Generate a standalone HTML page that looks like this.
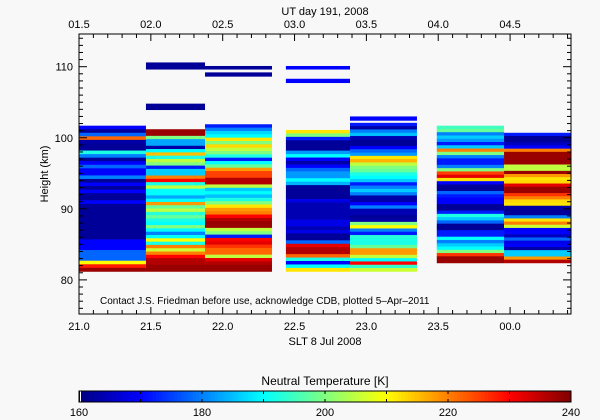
<!DOCTYPE html>
<html><head><meta charset="utf-8"><style>
body{margin:0;background:#f8f8f8;}
svg{display:block;font-family:"Liberation Sans",sans-serif;}
</style></head><body>
<svg id="chart" width="600" height="420" viewBox="0 0 600 420">
<rect width="600" height="420" fill="#f8f8f8"/>
<g id="cells"></g>
<g id="axes"></g>
<g id="cbar"></g>
</svg>
<script>
// Column time ranges (SLT hours) and height ranges (km)
const colStart = [21.0, 21.466, 21.877, 22.44, 22.886, 23.49, 23.958];
const colEnd   = [21.466, 21.877, 22.343, 22.886, 23.352, 23.958, 24.424];
const colBottom = [81.2, 81.2, 81.2, 81.2, 81.2, 82.4, 82.4];
const colTop    = [101.7, 101.2, 101.9, 101.1, 102.1, 101.7, 100.7];
// Temperatures (K), listed top to bottom
const col1Temps = [170,162,178,222,163,162,162,192,180,162,170,178,170,170,180,162,170,162,170,162,162,170,162,162,162,162,162,162,162,162,162,162,170,170,170,178,178,178,210,228,238];
const col2Temps = [238,238,200,183,183,163,190,215,192,205,200,172,186,186,220,230,192,205,190,190,183,190,218,198,205,193,198,192,190,200,190,180,190,210,192,220,206,220,230,236,236,238,238];
const col3Temps = [172,180,187,190,212,200,213,205,200,192,172,190,198,218,225,225,236,236,205,186,190,185,192,200,212,218,220,230,236,238,238,205,200,172,230,232,226,222,222,205,232,236,238,238];
const col4Temps = [212,200,172,162,162,162,182,190,170,163,170,178,182,182,190,184,162,162,162,162,168,164,164,164,164,164,168,168,164,168,162,162,178,232,236,236,222,192,170,190,212];
const col5Temps = [172,163,180,185,164,162,162,170,178,182,212,216,205,200,198,192,190,186,172,180,186,180,163,163,170,180,164,164,162,163,200,210,180,172,193,192,192,198,218,218,205,190,230,194,206];
const col6Temps = [195,198,180,186,182,172,186,220,200,180,172,172,180,200,225,232,212,170,162,162,178,172,170,170,162,162,172,192,186,178,162,162,172,172,190,180,186,190,200,226,238,238];
const col7Temps = [172,162,162,165,170,220,238,238,238,238,205,205,238,218,212,213,232,238,238,226,220,213,212,163,162,162,180,212,220,206,170,170,165,178,168,170,163,186,186,218,236];
// Isolated high-altitude bands
const bandStart = [21.466, 21.466, 21.877, 21.877, 22.44, 22.44, 22.886];
const bandEnd   = [21.877, 21.877, 22.343, 22.343, 22.886, 22.886, 23.352];
const bandLow   = [109.6, 103.9, 109.6, 108.6, 109.6, 107.7, 102.4];
const bandHigh  = [110.6, 104.8, 110.1, 109.2, 110.1, 108.3, 103.0];
const bandTemp  = [162, 162, 162, 162, 170, 170, 170];
// Axis ticks
const xTickValues = [21.0, 21.5, 22.0, 22.5, 23.0, 23.5, 24.0];
const xTickLabels = ["21.0","21.5","22.0","22.5","23.0","23.5","00.0"];
const topTickLabels = ["01.5","02.0","02.5","03.0","03.5","04.0","04.5"];
const yTickValues = [80, 90, 100, 110];
const cbarTicks = [160, 180, 200, 220, 240];

const NS='http://www.w3.org/2000/svg';
const X0=79, X1=571, Y0=34, Y1=314;
const T0=21.0, T1=24.424, H0=75.2, H1=114.6;
const TMIN=160, TMAX=240;
const xs = t => X0 + (t-T0)/(T1-T0)*(X1-X0);
const ys = h => Y1 - (h-H0)/(H1-H0)*(Y1-Y0);
function jet(v){
  const t=Math.max(0,Math.min(1,(v-TMIN)/(TMAX-TMIN)));
  const c=x=>Math.round(255*Math.max(0,Math.min(1,x)));
  return `rgb(${c(1.5-Math.abs(4*t-3))},${c(1.5-Math.abs(4*t-2))},${c(1.5-Math.abs(4*t-1))})`;
}
function mk(tag,attrs,parent){const e=document.createElementNS(NS,tag);for(const k in attrs)e.setAttribute(k,attrs[k]);parent.appendChild(e);return e;}

const cells=document.getElementById('cells');
const cols=[col1Temps,col2Temps,col3Temps,col4Temps,col5Temps,col6Temps,col7Temps];
cols.forEach((temps,ci)=>{
  const n=temps.length, dh=(colTop[ci]-colBottom[ci])/n;
  temps.forEach((v,i)=>{
    const hTop=colTop[ci]-i*dh, hBot=hTop-dh;
    const r=mk('rect',{x:xs(colStart[ci]),y:ys(hTop),width:xs(colEnd[ci])-xs(colStart[ci]),height:ys(hBot)-ys(hTop)+0.4,fill:jet(v)},cells);
    
    
  });
});
bandStart.forEach((s,i)=>{
  const r=mk('rect',{x:xs(s),y:ys(bandHigh[i]),width:xs(bandEnd[i])-xs(s),height:ys(bandLow[i])-ys(bandHigh[i]),fill:jet(bandTemp[i])},cells);
  
  
});

const ax=document.getElementById('axes');
const frame=mk('rect',{x:X0,y:Y0,width:X1-X0,height:Y1-Y0,fill:'none',stroke:'#000','stroke-width':1},ax);


// x minor ticks every 0.1h
for(let k=0;k<=34;k++){
  const t=T0+k*0.1, x=xs(t), major=(k%5===0), L=major?7:4;
  mk('line',{x1:x,y1:Y1,x2:x,y2:Y1-L,stroke:'#000'},ax);
  mk('line',{x1:x,y1:Y0,x2:x,y2:Y0+L,stroke:'#000'},ax);
}
xTickValues.forEach((t,i)=>{
  const a=mk('text',{x:xs(t),y:Y1+16,'font-size':11,'text-anchor':'middle'},ax);a.textContent=xTickLabels[i];
  
  
  const b=mk('text',{x:xs(t),y:Y0-6,'font-size':11,'text-anchor':'middle'},ax);b.textContent=topTickLabels[i];
  
  
});
for(let h=76;h<=114;h++){
  const y=ys(h), major=(h%10===0), L=major?8:4;
  mk('line',{x1:X0,y1:y,x2:X0+L,y2:y,stroke:'#000'},ax);
  mk('line',{x1:X1,y1:y,x2:X1-L,y2:y,stroke:'#000'},ax);
}
yTickValues.forEach(h=>{
  const a=mk('text',{x:X0-6,y:ys(h)+4,'font-size':11,'text-anchor':'end'},ax);a.textContent=h;
  
  
});
const yt=mk('text',{x:48,y:174,'font-size':11,'text-anchor':'middle',transform:'rotate(-90 48 174)'},ax);yt.textContent='Height (km)';


const xt=mk('text',{x:325,y:345,'font-size':11,'text-anchor':'middle'},ax);xt.textContent='SLT 8 Jul 2008';


const tt=mk('text',{x:325,y:15,'font-size':11,'text-anchor':'middle'},ax);tt.textContent='UT day 191, 2008';


const note=mk('text',{x:100,y:304,'font-size':10},ax);note.textContent='Contact J.S. Friedman before use, acknowledge CDB, plotted 5\u2013Apr\u20132011';



// Colorbar
const cb=document.getElementById('cbar');
const CX0=79, CX1=571, CY0=391, CY1=402;
const N=160;
for(let i=0;i<N;i++){
  const v=TMIN+(i+0.5)/N*(TMAX-TMIN);
  const r=mk('rect',{x:CX0+i*(CX1-CX0)/N,y:CY0,width:(CX1-CX0)/N+0.5,height:CY1-CY0,fill:jet(v)},cb);
  
  
}
mk('line',{x1:CX0+1.5,y1:CY0,x2:CX0+1.5,y2:CY1,stroke:'#fff'},cb);
const cbf=mk('rect',{x:CX0,y:CY0,width:CX1-CX0,height:CY1-CY0,fill:'none',stroke:'#000'},cb);


for(let v=TMIN+10;v<TMAX;v+=10){
  const x=CX0+(v-TMIN)/(TMAX-TMIN)*(CX1-CX0);
  mk('line',{x1:x,y1:CY0,x2:x,y2:CY0+3,stroke:'#000'},cb);
  mk('line',{x1:x,y1:CY1,x2:x,y2:CY1-3,stroke:'#000'},cb);
}
cbarTicks.forEach(v=>{
  const a=mk('text',{x:CX0+(v-TMIN)/(TMAX-TMIN)*(CX1-CX0),y:416,'font-size':11,'text-anchor':'middle'},cb);a.textContent=v;
  
  
});
const ct=mk('text',{x:325,y:385,'font-size':12,'text-anchor':'middle'},cb);ct.textContent='Neutral Temperature [K]';


</script>
</body></html>
